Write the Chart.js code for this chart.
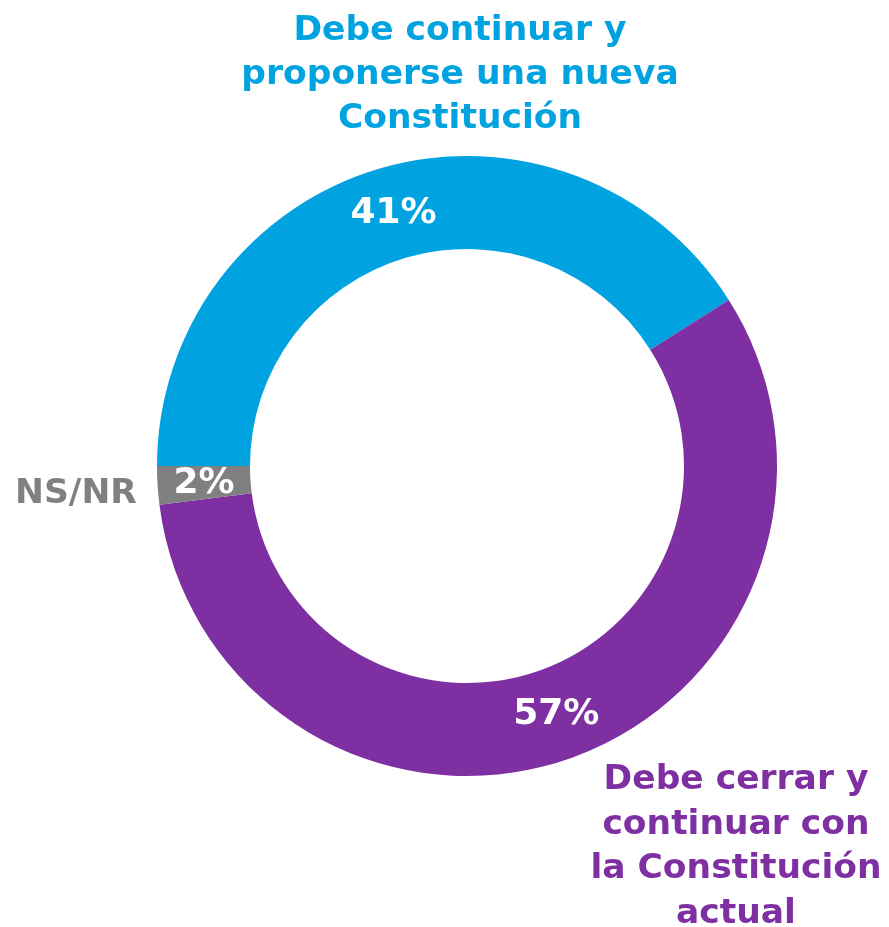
<!DOCTYPE html>
<html>
<head>
<meta charset="utf-8">
<script src="https://cdn.jsdelivr.net/npm/chart.js@4/dist/chart.umd.min.js"></script>
<style>
  html, body { margin: 0; padding: 0; background: #ffffff; }
  #wrap { width: 889px; height: 927px; position: relative; }
</style>
</head>
<body>
<div id="wrap"><canvas id="c"></canvas></div>
<script>
const categories = [
  "Debe continuar y proponerse una nueva Constitución",
  "Debe cerrar y continuar con la Constitución actual",
  "NS/NR"
];
const values = [41, 57, 2];
const colors = ["#00A3E0", "#7E2FA2", "#808080"];
const blueLabelLines = ["Debe continuar y", "proponerse una nueva", "Constitución"];
const purpleLabelLines = ["Debe cerrar y", "continuar con", "la Constitución", "actual"];
const grayLabelLines = ["NS/NR"];

const FONT = '"DejaVu Sans", "Liberation Sans", sans-serif';

const labelPlugin = {
  id: 'labels',
  afterDraw(chart) {
    const ctx = chart.ctx;
    const meta = chart.getDatasetMeta(0);
    ctx.save();
    // percentage labels inside arcs
    ctx.fillStyle = '#ffffff';
    ctx.font = 'bold 36px ' + FONT;
    ctx.textAlign = 'center';
    ctx.textBaseline = 'middle';
    meta.data.forEach((arc, i) => {
      const p = arc.tooltipPosition();
      ctx.fillText(values[i] + '%', p.x, p.y + 1);
    });
    // outside labels
    ctx.font = 'bold 34.5px ' + FONT;
    ctx.textBaseline = 'alphabetic';
    const drawLines = (lines, x, y0, color, step) => {
      ctx.fillStyle = color;
      lines.forEach((t, k) => ctx.fillText(t, x, y0 + k * step));
    };
    drawLines(blueLabelLines, 460, 40, colors[0], 44);
    drawLines(purpleLabelLines, 736, 789, colors[1], 44.5);
    drawLines(grayLabelLines, 76, 503, colors[2], 44);
    ctx.restore();
  }
};

new Chart(document.getElementById('c'), {
  type: 'doughnut',
  data: {
    labels: categories,
    datasets: [{
      data: values,
      backgroundColor: colors,
      borderWidth: 0
    }]
  },
  options: {
    responsive: true,
    maintainAspectRatio: false,
    animation: false,
    rotation: -90,
    cutout: '70%',
    layout: { padding: { left: 157, right: 112, top: 156, bottom: 151 } },
    plugins: { legend: { display: false }, tooltip: { enabled: false } }
  },
  plugins: [labelPlugin]
});
</script>
</body>
</html>
